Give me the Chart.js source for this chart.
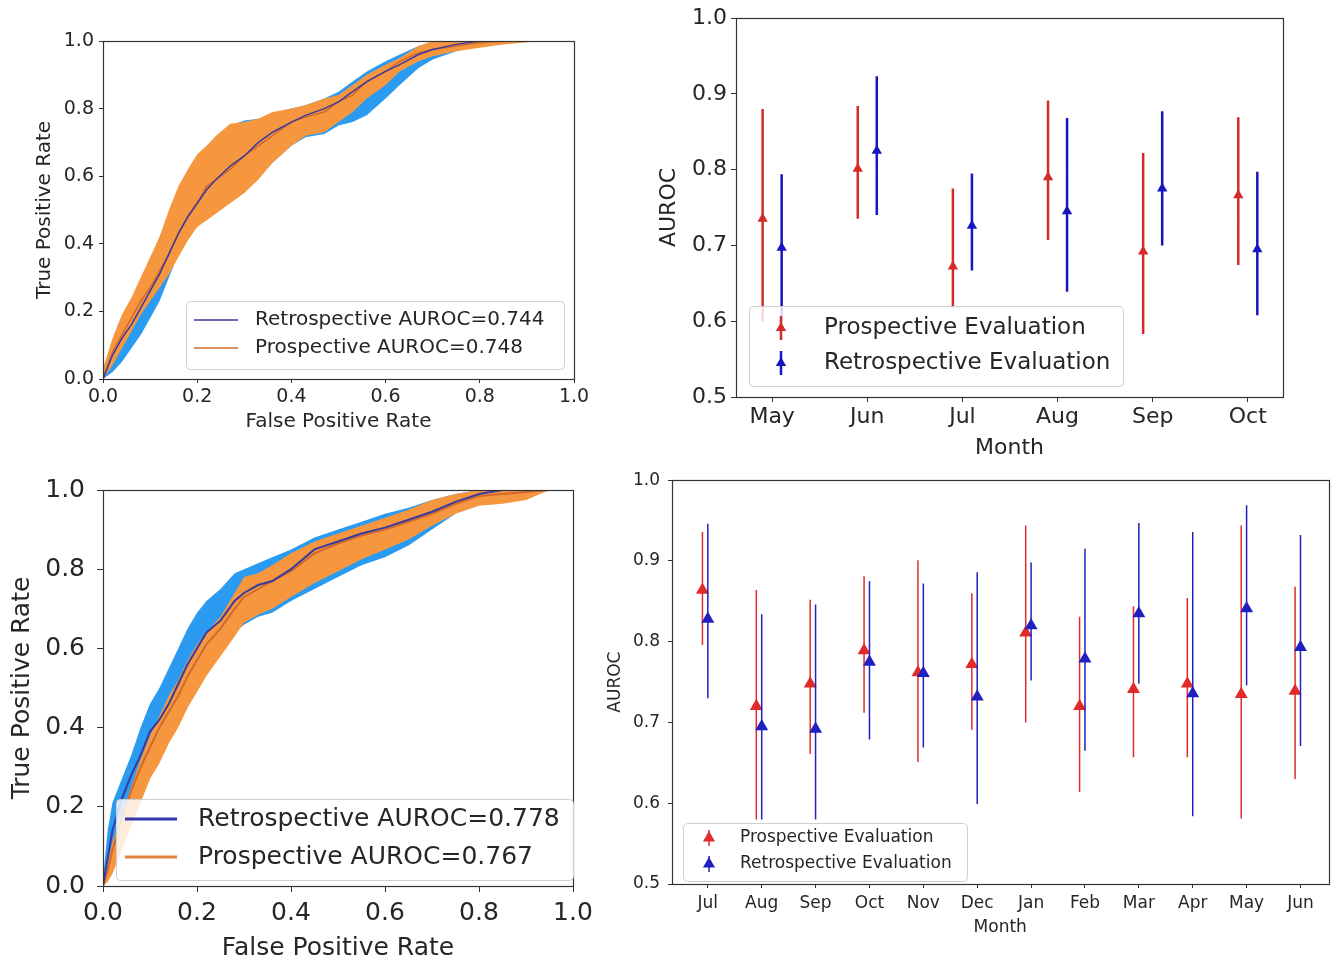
<!DOCTYPE html>
<html>
<head>
<meta charset="utf-8">
<script src="https://cdn.jsdelivr.net/npm/chart.js@4.4.1/dist/chart.umd.min.js"></script>
<style>
  html, body { margin: 0; padding: 0; background: #fff; }
  body { width: 1336px; height: 963px; position: relative; overflow: hidden; }
  canvas { position: absolute; }
</style>
</head>
<body>
<canvas id="rocTop" width="571" height="414" style="left:33px;top:20px"></canvas>
<canvas id="monthTop" width="667" height="461" style="left:656px;top:0px"></canvas>
<canvas id="rocBottom" width="596" height="500" style="left:7px;top:463px"></canvas>
<canvas id="monthBottom" width="731" height="476" style="left:605px;top:462px"></canvas>
<script>
// tick values
const rocTicks = [0, 0.2, 0.4, 0.6, 0.8, 1.0];
const aurocTicks = [0.5, 0.6, 0.7, 0.8, 0.9, 1.0];

// top-left ROC
const fprA = [0, 0.02, 0.04, 0.06, 0.08, 0.10, 0.12, 0.14, 0.16, 0.18, 0.20, 0.22, 0.24, 0.27, 0.30, 0.33, 0.36, 0.40, 0.43, 0.47, 0.50, 0.53, 0.56, 0.60, 0.63, 0.67, 0.70, 0.75, 0.80, 0.85, 0.93];
const retroMeanA = [0, 0.07, 0.12, 0.16, 0.21, 0.26, 0.31, 0.37, 0.43, 0.48, 0.52, 0.56, 0.59, 0.63, 0.66, 0.70, 0.73, 0.76, 0.78, 0.80, 0.82, 0.85, 0.88, 0.91, 0.93, 0.96, 0.975, 0.99, 1.0, 1.0, 1.0];
const prosMeanA = [0, 0.08, 0.13, 0.18, 0.23, 0.27, 0.32, 0.37, 0.43, 0.48, 0.52, 0.57, 0.59, 0.62, 0.66, 0.69, 0.72, 0.76, 0.775, 0.79, 0.82, 0.84, 0.88, 0.91, 0.94, 0.965, 0.975, 0.985, 0.995, 1.0, 1.0];
const prosUpA = [0.03, 0.12, 0.19, 0.24, 0.30, 0.36, 0.42, 0.50, 0.57, 0.62, 0.665, 0.69, 0.72, 0.755, 0.76, 0.77, 0.79, 0.80, 0.81, 0.83, 0.84, 0.87, 0.90, 0.93, 0.95, 0.985, 1.0, 1.0, 1.0, 1.0, 1.0];
const prosLowA = [0, 0.04, 0.09, 0.14, 0.19, 0.23, 0.27, 0.31, 0.36, 0.41, 0.45, 0.47, 0.49, 0.52, 0.55, 0.59, 0.64, 0.69, 0.72, 0.73, 0.76, 0.79, 0.83, 0.87, 0.91, 0.94, 0.955, 0.97, 0.98, 0.99, 1.0];
const retroUpA = [0.03, 0.11, 0.17, 0.23, 0.29, 0.35, 0.42, 0.48, 0.55, 0.60, 0.64, 0.68, 0.71, 0.75, 0.765, 0.77, 0.785, 0.80, 0.81, 0.83, 0.85, 0.88, 0.91, 0.94, 0.96, 0.985, 0.995, 1.0, 1.0, 1.0, 1.0];
const retroLowA = [0, 0.02, 0.05, 0.09, 0.13, 0.18, 0.23, 0.30, 0.37, 0.42, 0.46, 0.48, 0.50, 0.53, 0.56, 0.60, 0.64, 0.69, 0.715, 0.725, 0.75, 0.76, 0.78, 0.83, 0.87, 0.92, 0.945, 0.97, 0.985, 0.995, 1.0];

// bottom-left ROC
const fprB = [0, 0.01, 0.02, 0.04, 0.06, 0.08, 0.10, 0.12, 0.14, 0.16, 0.18, 0.20, 0.22, 0.25, 0.28, 0.30, 0.33, 0.36, 0.40, 0.45, 0.50, 0.55, 0.60, 0.65, 0.70, 0.75, 0.80, 0.85, 0.90, 0.95];
const retroMeanB = [0, 0.07, 0.14, 0.22, 0.28, 0.33, 0.39, 0.42, 0.46, 0.51, 0.56, 0.60, 0.64, 0.67, 0.72, 0.74, 0.76, 0.77, 0.80, 0.85, 0.87, 0.89, 0.905, 0.925, 0.945, 0.97, 0.99, 1.0, 1.0, 1.0];
const prosMeanB = [0, 0.04, 0.09, 0.17, 0.24, 0.30, 0.35, 0.40, 0.44, 0.48, 0.53, 0.57, 0.61, 0.65, 0.70, 0.73, 0.75, 0.77, 0.795, 0.84, 0.865, 0.885, 0.90, 0.92, 0.94, 0.965, 0.985, 0.99, 0.995, 1.0];
const retroUpB = [0.02, 0.14, 0.21, 0.27, 0.33, 0.40, 0.46, 0.50, 0.55, 0.60, 0.65, 0.69, 0.72, 0.75, 0.79, 0.80, 0.815, 0.83, 0.85, 0.88, 0.90, 0.92, 0.94, 0.955, 0.975, 0.99, 1.0, 1.0, 1.0, 1.0];
const retroLowB = [0, 0.02, 0.06, 0.14, 0.20, 0.26, 0.31, 0.35, 0.39, 0.43, 0.47, 0.51, 0.55, 0.60, 0.64, 0.66, 0.68, 0.69, 0.72, 0.75, 0.78, 0.81, 0.83, 0.86, 0.90, 0.94, 0.97, 0.99, 1.0, 1.0];
const prosUpB = [0.01, 0.06, 0.11, 0.18, 0.25, 0.32, 0.38, 0.43, 0.48, 0.52, 0.57, 0.61, 0.64, 0.68, 0.74, 0.78, 0.79, 0.81, 0.84, 0.87, 0.89, 0.91, 0.93, 0.95, 0.975, 0.99, 1.0, 1.0, 1.0, 1.0];
const prosLowB = [0, 0.01, 0.03, 0.09, 0.15, 0.21, 0.27, 0.31, 0.36, 0.40, 0.45, 0.49, 0.53, 0.58, 0.63, 0.665, 0.685, 0.70, 0.73, 0.765, 0.795, 0.825, 0.85, 0.875, 0.91, 0.94, 0.96, 0.965, 0.975, 1.0];

// top-right monthly AUROC
const monthsA = ['May', 'Jun', 'Jul', 'Aug', 'Sep', 'Oct'];
const prosA = [0.735, 0.801, 0.672, 0.790, 0.692, 0.766];
const prosLoA = [0.60, 0.735, 0.617, 0.707, 0.583, 0.674];
const prosHiA = [0.880, 0.884, 0.775, 0.891, 0.822, 0.869];
const retroA = [0.697, 0.825, 0.726, 0.745, 0.775, 0.695];
const retroLoA = [0.60, 0.740, 0.667, 0.639, 0.700, 0.608];
const retroHiA = [0.794, 0.923, 0.795, 0.868, 0.877, 0.797];

// bottom-right monthly AUROC
const monthsB = ['Jul', 'Aug', 'Sep', 'Oct', 'Nov', 'Dec', 'Jan', 'Feb', 'Mar', 'Apr', 'May', 'Jun'];
const prosB = [0.864, 0.720, 0.748, 0.789, 0.762, 0.772, 0.811, 0.720, 0.741, 0.748, 0.735, 0.739];
const prosLoB = [0.796, 0.58, 0.661, 0.712, 0.651, 0.691, 0.700, 0.614, 0.657, 0.657, 0.581, 0.630];
const prosHiB = [0.936, 0.864, 0.852, 0.881, 0.901, 0.860, 0.944, 0.831, 0.844, 0.854, 0.944, 0.868];
const retroB = [0.828, 0.695, 0.692, 0.775, 0.761, 0.732, 0.820, 0.779, 0.835, 0.736, 0.841, 0.793];
const retroLoB = [0.730, 0.58, 0.58, 0.679, 0.669, 0.599, 0.752, 0.665, 0.748, 0.584, 0.746, 0.671];
const retroHiB = [0.946, 0.834, 0.846, 0.875, 0.872, 0.886, 0.898, 0.915, 0.947, 0.936, 0.969, 0.932];

const FONT = 'DejaVu Sans';
const TEXT = '#262626';
const blueBand = '#2b9bf2';
const orangeBand = '#f6973f';
const retroLine = '#3a3a9e';
const prosLine = '#cf6a2e';

const xy = (xs, ys) => xs.map((x, i) => ({ x: x, y: ys[i] }));

// vertical segments for error bars, broken with nulls
function barPoints(lo, hi, off) {
  const pts = [];
  lo.forEach((v, i) => {
    pts.push({ x: i + off, y: v }, { x: i + off, y: hi[i] }, { x: i + off, y: null });
  });
  return pts;
}
const markPoints = (vals, off) => vals.map((v, i) => ({ x: i + off, y: v }));

function axis(o) {
  return {
    type: 'linear',
    min: o.min,
    max: o.max,
    afterFit: s => { if (s.isHorizontal()) s.height = o.size; else s.width = o.size; },
    afterBuildTicks: s => { s.ticks = o.ticks.map(v => ({ value: v })); },
    grid: { display: true, drawOnChartArea: false, drawTicks: true, tickLength: o.tl, color: '#333', lineWidth: 1 },
    border: { display: false },
    ticks: {
      padding: o.pad, color: TEXT, maxRotation: 0, autoSkip: false,
      font: { family: FONT, size: o.fs },
      callback: o.fmt
    },
    title: { display: true, text: o.title, color: TEXT, padding: 0, font: { family: FONT, size: o.tfs } }
  };
}

const frame = {
  id: 'frame',
  afterDatasetsDraw(chart) {
    const { ctx, chartArea: a } = chart;
    ctx.save();
    ctx.strokeStyle = '#333';
    ctx.lineWidth = 1.2;
    ctx.strokeRect(Math.round(a.left) + 0.5, Math.round(a.top) + 0.5, Math.round(a.right - a.left), Math.round(a.bottom - a.top));
    ctx.restore();
  }
};

function triangle(ctx, cx, cy, r) {
  ctx.beginPath();
  ctx.moveTo(cx, cy - r);
  ctx.lineTo(cx + 0.866 * r, cy + 0.5 * r);
  ctx.lineTo(cx - 0.866 * r, cy + 0.5 * r);
  ctx.closePath();
  ctx.fill();
}

// matplotlib-like legend box, placed relative to the chart area
function boxLegend(cfg) {
  return {
    id: 'boxLegend',
    afterDatasetsDraw(chart) {
      const { ctx, chartArea: a } = chart;
      const x = Math.round(a.left + cfg.x), y = Math.round(a.top + cfg.y);
      ctx.save();
      ctx.fillStyle = 'rgba(255,255,255,0.82)';
      ctx.strokeStyle = '#d0d0d0';
      ctx.lineWidth = 1;
      ctx.beginPath();
      ctx.roundRect(x + 0.5, y + 0.5, cfg.w, cfg.h, 4);
      ctx.fill();
      ctx.stroke();
      ctx.font = cfg.size + 'px "' + FONT + '"';
      ctx.textBaseline = 'middle';
      cfg.items.forEach((it, i) => {
        const ry = y + cfg.rows[i];
        ctx.strokeStyle = it.color;
        ctx.fillStyle = it.color;
        ctx.lineWidth = cfg.lineWidth;
        ctx.beginPath();
        if (cfg.kind === 'line') {
          ctx.moveTo(x + cfg.sample[0], ry);
          ctx.lineTo(x + cfg.sample[1], ry);
          ctx.stroke();
        } else {
          ctx.moveTo(x + cfg.marker, ry - cfg.bar);
          ctx.lineTo(x + cfg.marker, ry + cfg.bar);
          ctx.stroke();
          triangle(ctx, x + cfg.marker, ry, cfg.radius);
        }
        ctx.fillStyle = TEXT;
        ctx.fillText(it.label, x + cfg.textX, ry);
      });
      ctx.restore();
    }
  };
}

function rocChart(id, fpr, s, look) {
  const line = { showLine: true, pointRadius: 0, tension: 0 };
  const band = { showLine: true, pointRadius: 0, tension: 0, borderWidth: 0, borderColor: 'rgba(0,0,0,0)' };
  return new Chart(document.getElementById(id), {
    type: 'scatter',
    data: {
      datasets: [
        Object.assign({ data: xy(fpr, s.retroMean), borderColor: retroLine, borderWidth: look.lw, order: 0 }, line),
        Object.assign({ data: xy(fpr, s.prosMean), borderColor: prosLine, borderWidth: look.lw, order: 1 }, line),
        Object.assign({ data: xy(fpr, s.prosUp), backgroundColor: orangeBand, fill: 3, order: 2 }, band),
        Object.assign({ data: xy(fpr, s.prosLow), order: 3 }, band),
        Object.assign({ data: xy(fpr, s.retroUp), backgroundColor: blueBand, fill: 5, order: 4 }, band),
        Object.assign({ data: xy(fpr, s.retroLow), order: 5 }, band)
      ]
    },
    options: {
      responsive: false, animation: false, events: [], devicePixelRatio: 1,
      layout: { padding: look.padding },
      plugins: { legend: { display: false }, tooltip: { enabled: false } },
      scales: {
        x: axis({ min: 0, max: 1, ticks: rocTicks, size: look.xH, tl: look.tl, pad: look.xPad, fs: look.fs, tfs: look.tfs,
          fmt: v => v.toFixed(1), title: 'False Positive Rate' }),
        y: axis({ min: 0, max: 1, ticks: rocTicks, size: look.yW, tl: look.tl, pad: look.yPad, fs: look.fs, tfs: look.tfs,
          fmt: v => v.toFixed(1), title: 'True Positive Rate' })
      }
    },
    plugins: [frame, boxLegend(look.legend)]
  });
}

function monthChart(id, months, s, look) {
  const bars = { showLine: true, pointRadius: 0, spanGaps: false, borderWidth: look.barW };
  const marks = { pointStyle: 'triangle', pointRadius: look.radius, borderWidth: 0 };
  return new Chart(document.getElementById(id), {
    type: 'scatter',
    data: {
      datasets: [
        Object.assign({ data: markPoints(s.retro, look.retroOff), backgroundColor: look.blue, order: 0 }, marks),
        Object.assign({ data: barPoints(s.retroLo, s.retroHi, look.retroOff), borderColor: look.blue, order: 1 }, bars),
        Object.assign({ data: markPoints(s.pros, look.prosOff), backgroundColor: look.red, order: 2 }, marks),
        Object.assign({ data: barPoints(s.prosLo, s.prosHi, look.prosOff), borderColor: look.red, order: 3 }, bars)
      ]
    },
    options: {
      responsive: false, animation: false, events: [], devicePixelRatio: 1,
      layout: { padding: look.padding },
      plugins: { legend: { display: false }, tooltip: { enabled: false } },
      scales: {
        x: axis({ min: look.xMin, max: look.xMax, ticks: months.map((m, i) => i), size: look.xH, tl: look.tl, pad: look.xPad,
          fs: look.fs, tfs: look.tfs, fmt: v => months[v], title: 'Month' }),
        y: axis({ min: 0.5, max: 1.0, ticks: aurocTicks, size: look.yW, tl: look.tl, pad: look.yPad,
          fs: look.fs, tfs: look.tfs, fmt: v => v.toFixed(1), title: 'AUROC' })
      }
    },
    plugins: [frame, boxLegend(look.legend)]
  });
}

rocChart('rocTop', fprA,
  { retroMean: retroMeanA, prosMean: prosMeanA, prosUp: prosUpA, prosLow: prosLowA, retroUp: retroUpA, retroLow: retroLowA },
  {
    lw: 1.5, padding: { left: 0, top: 21, right: 30, bottom: 0 }, yW: 70, xH: 55, tl: 4, xPad: 3, yPad: 5, fs: 19, tfs: 20,
    legend: {
      kind: 'line', x: 83, y: 260, w: 378, h: 68, rows: [19, 47], sample: [8, 52], textX: 69, size: 20, lineWidth: 1.5,
      items: [{ label: 'Retrospective AUROC=0.744', color: retroLine }, { label: 'Prospective AUROC=0.748', color: prosLine }]
    }
  });

rocChart('rocBottom', fprB,
  { retroMean: retroMeanB, prosMean: prosMeanB, prosUp: prosUpB, prosLow: prosLowB, retroUp: retroUpB, retroLow: retroLowB },
  {
    lw: 2, padding: { left: 0, top: 20, right: 30, bottom: 0 }, yW: 96, xH: 77, tl: 6, xPad: 6, yPad: 12, fs: 25, tfs: 25,
    legend: {
      kind: 'line', x: 13, y: 309, w: 457, h: 81, rows: [20, 58], sample: [9, 61], textX: 82, size: 25, lineWidth: 3,
      items: [{ label: 'Retrospective AUROC=0.778', color: '#3434ae' }, { label: 'Prospective AUROC=0.767', color: '#e0833f' }]
    }
  });

monthChart('monthTop', monthsA,
  { pros: prosA, prosLo: prosLoA, prosHi: prosHiA, retro: retroA, retroLo: retroLoA, retroHi: retroHiA },
  {
    red: '#d42a2a', blue: '#1717c2', barW: 2.5, radius: 6, prosOff: -0.1, retroOff: 0.1, xMin: -0.38, xMax: 5.37,
    padding: { left: 0, top: 18, right: 40, bottom: 0 }, yW: 80, xH: 64, tl: 5, xPad: 2, yPad: 4, fs: 22, tfs: 22,
    legend: {
      kind: 'marker', x: 13, y: 288, w: 374, h: 80, rows: [22, 57], marker: 32, bar: 12, radius: 6, textX: 75, size: 23, lineWidth: 2.5,
      items: [{ label: 'Prospective Evaluation', color: '#d42a2a' }, { label: 'Retrospective Evaluation', color: '#1717c2' }]
    }
  });

monthChart('monthBottom', monthsB,
  { pros: prosB, prosLo: prosLoB, prosHi: prosHiB, retro: retroB, retroLo: retroLoB, retroHi: retroHiB },
  {
    red: '#e12b2b', blue: '#2020c0', barW: 1.5, radius: 7.5, prosOff: -0.1, retroOff: 0, xMin: -0.665, xMax: 11.52,
    padding: { left: 0, top: 14, right: 5, bottom: 0 }, yW: 67, xH: 54, tl: 4, xPad: 5, yPad: 8, fs: 17, tfs: 17,
    legend: {
      kind: 'marker', x: 11, y: 343, w: 284, h: 58, rows: [15, 41], marker: 26, bar: 8, radius: 7, textX: 57, size: 17, lineWidth: 1.5,
      items: [{ label: 'Prospective Evaluation', color: '#e12b2b' }, { label: 'Retrospective Evaluation', color: '#2020c0' }]
    }
  });
</script>
</body>
</html>
